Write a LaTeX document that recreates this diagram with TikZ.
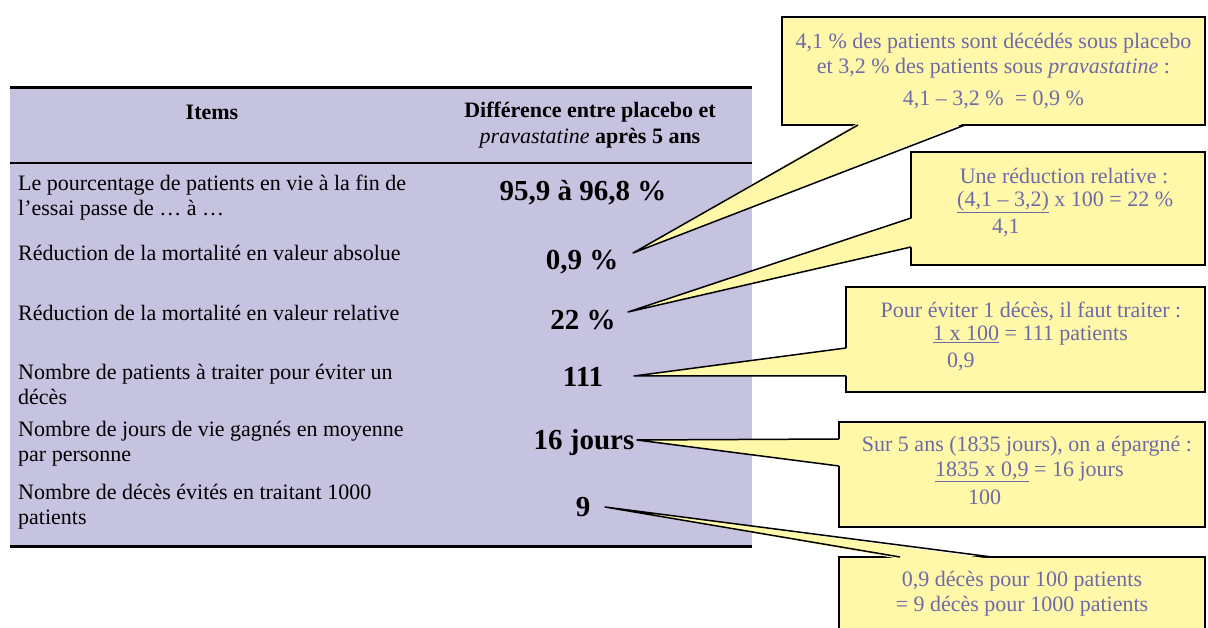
\documentclass[tikz,border=0pt]{standalone}
\usepackage{fontspec}
\setmainfont{Liberation Serif}
\usetikzlibrary{positioning}
\definecolor{tablebg}{RGB}{197,195,224}
\definecolor{notebg}{RGB}{255,248,168}
\definecolor{notetxt}{RGB}{110,106,170}

\begin{document}
\begin{tikzpicture}[x=1pt, y=-1pt]
    \tikzstyle{rowtext} = [anchor=west, align=left, inner sep=0pt, font=\fontsize{22}{25}\selectfont]
    \tikzstyle{headtext} = [align=center, inner sep=0pt, font=\bfseries\fontsize{22}{26}\selectfont]
    \tikzstyle{value} = [inner sep=0pt, font=\bfseries\fontsize{29}{33}\selectfont]
    \tikzstyle{notebox} = [rectangle, draw=black, fill=notebg, line width=1.5pt, outer sep=0pt, align=center, text=notetxt, font=\fontsize{22}{25}\selectfont]
    \tikzstyle{notetext} = [inner sep=0pt, text=notetxt, font=\fontsize{22}{25}\selectfont]
    \tikzstyle{wedge} = [draw=black, line width=1.5pt, line join=round]
    \tikzstyle{rule} = [line width=3pt]

    \useasboundingbox (0,0) rectangle (1208,628);

    % table
    \fill[tablebg] (10,88) rectangle (752,546);
    \draw[rule] (10,88) -- (752,88);
    \draw[line width=2pt] (10,163) -- (752,163);
    \draw[rule] (10,546) -- (752,546);

    \node (items) [headtext] at (212,112) {Items};
    \node (diff) [headtext] at (590,125) {Différence entre placebo et\\\textmd{\textit{pravastatine}} après 5 ans};

    \node (alive) [rowtext] at (18,197.5) {Le pourcentage de patients en vie à la fin de\\l’essai passe de … à …};
    \node (absred) [rowtext] at (18,253) {Réduction de la mortalité en valeur absolue};
    \node (relred) [rowtext] at (18,313) {Réduction de la mortalité en valeur relative};
    \node (nnt) [rowtext] at (18,384.5) {Nombre de patients à traiter pour éviter un\\décès};
    \node (days) [rowtext] at (18,444) {Nombre de jours de vie gagnés en moyenne\\par personne};
    \node (avoided) [rowtext] at (18,506.5) {Nombre de décès évités en traitant 1000\\patients};

    \node (alivev) [value] at (583,193) {95,9 à 96,8 \%};
    \node (absv) [value] at (582,262) {0,9 \%};
    \node (relv) [value] at (583,320) {22 \%};
    \node (nntv) [value] at (583,377) {111};
    \node (daysv) [value] at (584,443) {16 jours};
    \node (avoidedv) [value] at (583,507) {9};

    % pointer tips
    \coordinate (tipabs) at (633,253);
    \coordinate (tiprel) at (628,312);
    \coordinate (tipnnt) at (634,376);
    \coordinate (tipdays) at (637,440);
    \coordinate (tipavoided) at (605,507);

    % callouts
    \node (noteabs) [notebox, minimum width=423pt, minimum height=108pt] at (993.5,71) {4,1 \% des patients sont décédés sous placebo\\et 3,2 \% des patients sous \textit{pravastatine} :\\[7pt]4,1 – 3,2 \%\ \ = 0,9 \%};
    \coordinate (absa) at ([xshift=76pt]noteabs.south west);
    \coordinate (absb) at ([xshift=183pt]noteabs.south west);
    \fill[notebg] ([yshift=2pt]absa) -- (tipabs) -- ([yshift=2pt]absb) -- cycle;
    \draw[wedge] (absa) -- (tipabs) -- (absb);

    \node (noterel) [notebox, minimum width=294pt, minimum height=113pt] at (1058,208.5) {};
    \coordinate (rela) at ([yshift=-66pt]noterel.north west);
    \coordinate (relb) at ([yshift=-95pt]noterel.north west);
    \fill[notebg] ([xshift=2pt]rela) -- (tiprel) -- ([xshift=2pt]relb) -- cycle;
    \draw[wedge] (rela) -- (tiprel) -- (relb);
    \node (reltitle) [notetext] at (1064,176) {Une réduction relative :};
    \node (relfrac) [notetext, anchor=west] at (957,202) {\underline{(4,1 – 3,2)} x 100 = 22 \%};
    \node (relden) [notetext, anchor=west] at (992,228) {4,1};

    \node (notennt) [notebox, minimum width=359pt, minimum height=105pt] at (1025.5,339.5) {};
    \coordinate (nnta) at ([yshift=-61pt]notennt.north west);
    \coordinate (nntb) at ([yshift=-89pt]notennt.north west);
    \fill[notebg] ([xshift=2pt]nnta) -- (tipnnt) -- ([xshift=2pt]nntb) -- cycle;
    \draw[wedge] (nnta) -- (tipnnt) -- (nntb);
    \node (nnttitle) [notetext] at (1031,311) {Pour éviter 1 décès, il faut traiter :};
    \node (nntfrac) [notetext, anchor=west] at (933,336) {\underline{1 x 100} = 111 patients};
    \node (nntden) [notetext, anchor=west] at (947,362) {0,9};

    \node (notedays) [notebox, minimum width=366pt, minimum height=105pt] at (1022,474.5) {};
    \coordinate (daysa) at ([yshift=-17pt]notedays.north west);
    \coordinate (daysb) at ([yshift=-44pt]notedays.north west);
    \fill[notebg] ([xshift=2pt]daysa) -- (tipdays) -- ([xshift=2pt]daysb) -- cycle;
    \draw[wedge] (daysa) -- (tipdays) -- (daysb);
    \node (daystitle) [notetext] at (1027,446) {Sur 5 ans (1835 jours), on a épargné :};
    \node (daysfrac) [notetext, anchor=west] at (935,472) {\underline{1835 x 0,9} = 16 jours};
    \node (daysden) [notetext, anchor=west] at (968,497) {100};

    \node (noteavoided) [notebox, minimum width=366pt, minimum height=73pt] at (1022,593.5) {0,9 décès pour 100 patients\\= 9 décès pour 1000 patients};
    \coordinate (avoideda) at ([xshift=61pt]noteavoided.north west);
    \coordinate (avoidedb) at ([xshift=153pt]noteavoided.north west);
    \fill[notebg] ([yshift=-2pt]avoideda) -- (tipavoided) -- ([yshift=-2pt]avoidedb) -- cycle;
    \draw[wedge] (avoideda) -- (tipavoided) -- (avoidedb);
\end{tikzpicture}
\end{document}
